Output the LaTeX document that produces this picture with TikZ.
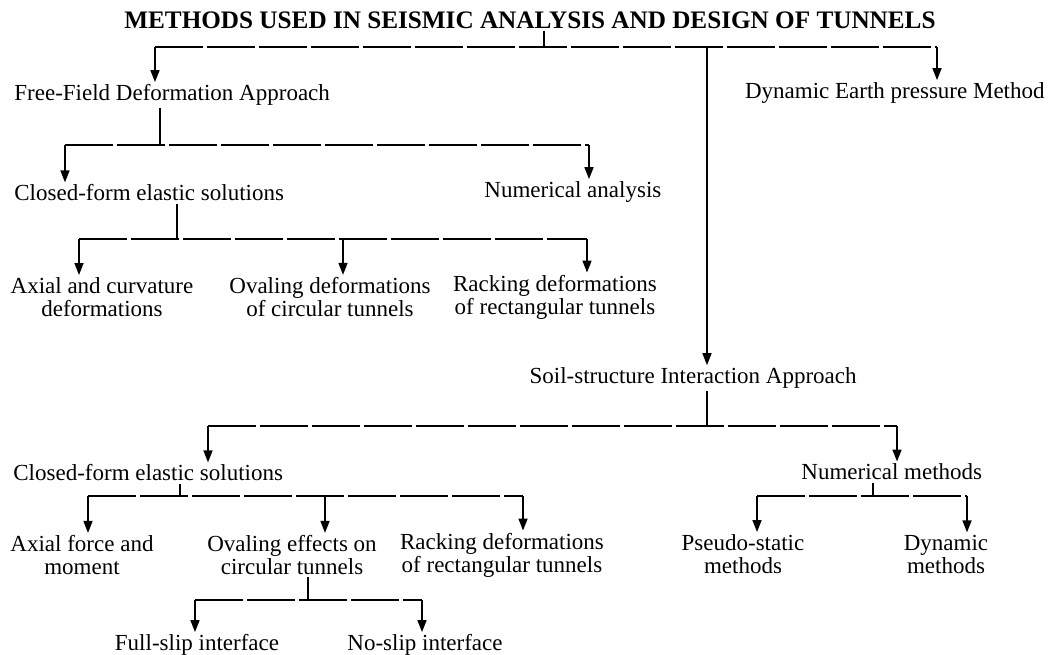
\documentclass[tikz,border=0pt]{standalone}
\usepackage{fontspec}
\setmainfont{Liberation Serif}
\usetikzlibrary{arrows.meta}

\begin{document}
\begin{tikzpicture}[x=0.5pt,y=-0.5pt,
  lbl/.style={font=\fontsize{11.5}{11.5}\selectfont,inner xsep=1pt,inner ysep=1pt,align=center},
  ttl/.style={font=\bfseries\fontsize{12.6}{14}\selectfont,inner sep=1pt},
  ln/.style={line width=0.8pt},
  bar/.style={ln,dash pattern=on 24pt off 2pt},
  arr/.style={ln,-{Triangle[length=6pt,width=4.5pt]}}]
\useasboundingbox (0,0) rectangle (1048,654);

\node[ttl] (title) at (530,20) {METHODS USED IN SEISMIC ANALYSIS AND DESIGN OF TUNNELS};

% first level
\node[lbl,anchor=west] (ffa) at (12,95) {Free-Field Deformation Approach};
\node[lbl,anchor=east] (dep) at (1047,93) {Dynamic Earth pressure Method};
\node[lbl,anchor=east] (ssi) at (859,378) {Soil-structure Interaction Approach};

\coordinate (s1) at (544,47);
\coordinate (a1l) at (155,47);
\coordinate (a1m) at (707,47);
\coordinate (a1r) at (937,47);
\draw[ln] (title.south -| s1) -- (s1);
\draw[bar] (a1l) -- (a1r);
\draw[arr] (a1l) -- (a1l |- ffa.north);
\draw[arr] (a1m) -- (a1m |- ssi.north);
\draw[arr] (a1r) -- (a1r |- dep.north);

% free-field branch
\node[lbl,anchor=west] (cfs1) at (12,193) {Closed-form elastic solutions};
\node[lbl,anchor=west] (na) at (482,192) {Numerical analysis};

\coordinate (s2) at (160,145);
\coordinate (a2l) at (65,145);
\coordinate (a2r) at (589,145);
\draw[ln] (ffa.south -| s2) -- (s2);
\draw[bar] (a2l) -- (a2r);
\draw[arr] (a2l) -- (a2l |- cfs1.north);
\draw[arr] (a2r) -- (a2r |- na.north);

\node[lbl] (acd) at (102,297) {Axial and curvature\\deformations};
\node[lbl] (ocd) at (330,297) {Ovaling deformations\\of circular tunnels};
\node[lbl] (rrt1) at (555,297) {Racking deformations\\of rectangular tunnels};

\coordinate (s3) at (177,239);
\coordinate (a3l) at (79,239);
\coordinate (a3m) at (343,239);
\coordinate (a3r) at (587,239);
\draw[ln] (cfs1.south -| s3) -- (s3);
\draw[bar] (a3l) -- (a3r);
\draw[arr] (a3l) -- (a3l |- acd.north);
\draw[arr] (a3m) -- (a3m |- ocd.north);
\draw[arr] (a3r) -- (a3r |- rrt1.north);

% soil-structure branch
\node[lbl,anchor=west] (cfs2) at (11,473) {Closed-form elastic solutions};
\node[lbl,anchor=west] (nm) at (799,472) {Numerical methods};

\coordinate (s4) at (707,426);
\coordinate (a4l) at (208,426);
\coordinate (a4r) at (897,426);
\draw[ln] (ssi.south -| s4) -- (s4);
\draw[bar] (a4l) -- (a4r);
\draw[arr] (a4l) -- (a4l |- cfs2.north);
\draw[arr] (a4r) -- (a4r |- nm.north);

\node[lbl] (afm) at (82,555) {Axial force and\\moment};
\node[lbl] (oec) at (292,555) {Ovaling effects on\\circular tunnels};
\node[lbl] (rrt2) at (502,555) {Racking deformations\\of rectangular tunnels};

\coordinate (s5) at (180,496);
\coordinate (a5l) at (88,496);
\coordinate (a5m) at (325,496);
\coordinate (a5r) at (523,496);
\draw[ln] (cfs2.south -| s5) -- (s5);
\draw[bar] (a5l) -- (a5r);
\draw[arr] (a5l) -- (a5l |- afm.north);
\draw[arr] (a5m) -- (a5m |- oec.north);
\draw[arr] (a5r) -- (a5r |- rrt2.north);

\node[lbl] (psm) at (743,554) {Pseudo-static\\methods};
\node[lbl] (dm) at (946,554) {Dynamic\\methods};

\coordinate (s6) at (873,496);
\coordinate (a6l) at (757,496);
\coordinate (a6r) at (967,496);
\draw[ln] (nm.south -| s6) -- (s6);
\draw[bar] (a6l) -- (a6r);
\draw[arr] (a6l) -- (a6l |- psm.north);
\draw[arr] (a6r) -- (a6r |- dm.north);

% oval interface
\node[lbl] (fsi) at (197,645) {Full-slip interface};
\node[lbl] (nsi) at (425,645) {No-slip interface};

\coordinate (s7) at (308,600);
\coordinate (a7l) at (195,600);
\coordinate (a7r) at (422,600);
\draw[ln] (oec.south -| s7) -- (s7);
\draw[bar] (a7l) -- (a7r);
\draw[arr] (a7l) -- (a7l |- fsi.north);
\draw[arr] (a7r) -- (a7r |- nsi.north);

\end{tikzpicture}
\end{document}
